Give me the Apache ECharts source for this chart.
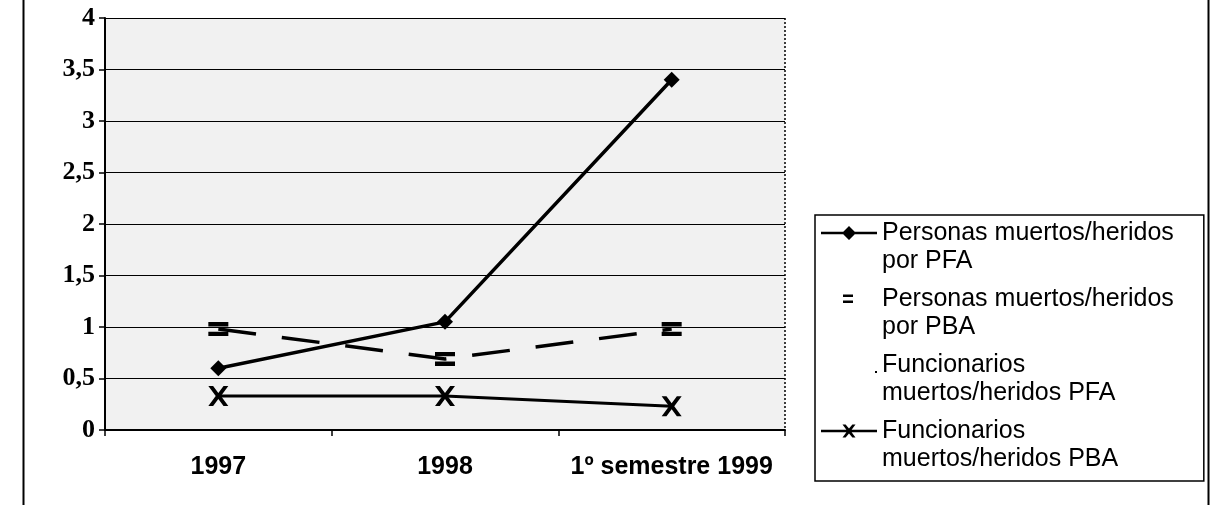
<!DOCTYPE html>
<html>
<head>
<meta charset="utf-8">
<script src="https://cdn.jsdelivr.net/npm/echarts@6/dist/echarts.min.js"></script>
<style>html,body{margin:0;padding:0;background:#fff}#c{width:1211px;height:505px}</style>
</head>
<body>
<div id="c"></div>
<script>
var categories = ['1997', '1998', '1º semestre 1999'];
var personasPFA = [0.6, 1.05, 3.4];
var personasPBA = [0.98, 0.69, 0.98];
var funcionariosPFA = [];
var funcionariosPBA = [0.33, 0.33, 0.23];
var seriesNames = [
  'Personas muertos/heridos\npor PFA',
  'Personas muertos/heridos\npor PBA',
  'Funcionarios\nmuertos/heridos PFA',
  'Funcionarios\nmuertos/heridos PBA'
];

var eqSymbol = 'path://M0,0H10V2.4H0Z M0,5.2H10V7.6H0Z';
var xSymbol = 'path://M0,0L2.4,0L5,3.5L7.6,0L10,0L6.3,5L10,10L7.6,10L5,6.5L2.4,10L0,10L3.7,5Z';

// legend icons (56 x 56 box; corner specks keep the box size)
var box = 'M0,0L0.05,0L0,0.05Z M56,56L55.95,56L56,55.95Z ';
var iconPFA = 'path://' + box + 'M0,12.7H56V15.3H0Z M28,7L35,14L28,21L21,14Z';
var iconPBA = 'path://' + box + 'M22,9.5H32V12H22Z M22,15.5H32V18H22Z';
var iconFPFA = 'path://' + box + 'M54,20H56V22H54Z';
var iconFPBA = 'path://' + box + 'M0,12.7H56V15.3H0Z M21.5,7.5L24.6,7.5L28,11.6L31.4,7.5L34.5,7.5L29.7,14L34.5,20.5L31.4,20.5L28,16.4L24.6,20.5L21.5,20.5L26.3,14Z';

var chart = echarts.init(document.getElementById('c'));
chart.setOption({
  animation: false,
  backgroundColor: '#fff',
  graphic: [
    {type: 'line', shape: {x1: 23.5, y1: 0, x2: 23.5, y2: 505}, style: {stroke: '#000', lineWidth: 2}},
    {type: 'line', shape: {x1: 1208.5, y1: 0, x2: 1208.5, y2: 505}, style: {stroke: '#000', lineWidth: 2}},
    {type: 'line', shape: {x1: 785, y1: 18, x2: 785, y2: 430}, style: {stroke: '#000', lineWidth: 1.5, lineDash: [2, 2]}}
  ],
  grid: {left: 105, right: 426, top: 18, bottom: 75, show: true, backgroundColor: '#f1f1f1', borderWidth: 0},
  legend: {
    orient: 'vertical',
    left: 815,
    top: 215,
    padding: [4, 30, 8, 6],
    itemGap: 10,
    itemWidth: 56,
    itemHeight: 56,
    symbolKeepAspect: false,
    borderColor: '#000',
    borderWidth: 1.5,
    backgroundColor: '#fff',
    textStyle: {fontFamily: 'Liberation Sans, Arial', fontSize: 25, color: '#000', lineHeight: 28},
    data: [
      {name: seriesNames[0], icon: iconPFA},
      {name: seriesNames[1], icon: iconPBA},
      {name: seriesNames[2], icon: iconFPFA},
      {name: seriesNames[3], icon: iconFPBA}
    ]
  },
  xAxis: {
    type: 'category',
    data: categories,
    boundaryGap: true,
    axisLine: {lineStyle: {color: '#000', width: 2}},
    axisTick: {show: true, interval: 0, length: 6, lineStyle: {color: '#000', width: 1.5}},
    axisLabel: {interval: 0, fontFamily: 'Liberation Sans, Arial', fontWeight: 'bold', fontSize: 25, color: '#000', margin: 25}
  },
  yAxis: {
    type: 'value',
    min: 0,
    max: 4,
    interval: 0.5,
    axisLine: {show: true, lineStyle: {color: '#000', width: 2}},
    axisTick: {show: true, length: 6, lineStyle: {color: '#000', width: 1.5}},
    splitLine: {lineStyle: {color: '#000', width: 1}},
    axisLabel: {
      fontFamily: 'Liberation Serif, Times New Roman', fontWeight: 'bold', fontSize: 26, color: '#000', margin: 10,
      formatter: function (v) { return String(v).replace('.', ','); }
    }
  },
  series: [
    {
      name: seriesNames[0], type: 'line', data: personasPFA,
      symbol: 'diamond', symbolSize: 16,
      lineStyle: {color: '#000', width: 3.5}, itemStyle: {color: '#000'}, z: 5
    },
    {
      name: seriesNames[1], type: 'line', data: personasPBA,
      symbol: eqSymbol, symbolSize: [20, 14],
      lineStyle: {color: '#000', width: 3.5, type: [38, 26]}, itemStyle: {color: '#000'}
    },
    {
      name: seriesNames[2], type: 'line', data: funcionariosPFA,
      symbol: 'circle', symbolSize: 3,
      lineStyle: {color: '#000', width: 0, opacity: 0}, itemStyle: {color: '#000'}
    },
    {
      name: seriesNames[3], type: 'line', data: funcionariosPBA,
      symbol: xSymbol, symbolSize: 20,
      lineStyle: {color: '#000', width: 3}, itemStyle: {color: '#000'}
    }
  ]
});
</script>
</body>
</html>
